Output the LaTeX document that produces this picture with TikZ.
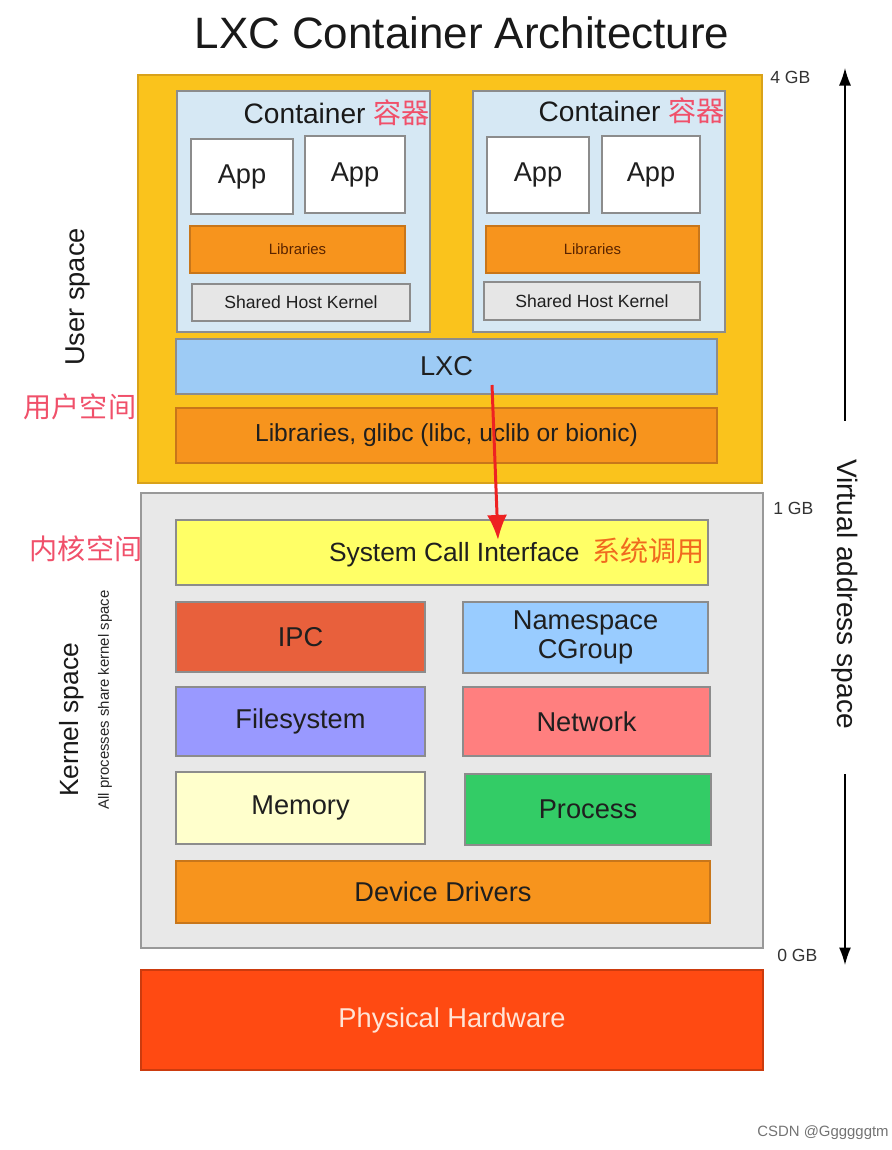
\documentclass[tikz,border=0pt]{standalone}
\usepackage{fontspec}
\setmainfont{Liberation Sans}
\newfontfamily\cjk{Noto Sans CJK SC}
\usetikzlibrary{arrows.meta}
\definecolor{userbg}{HTML}{FAC31C}
\definecolor{userbd}{HTML}{D9A21A}
\definecolor{contbg}{HTML}{D6E8F4}
\definecolor{libbg}{HTML}{F7941D}
\definecolor{libbd}{HTML}{C8761A}
\definecolor{libtx}{HTML}{5A2400}
\definecolor{shkbg}{HTML}{E6E6E6}
\definecolor{lxcbg}{HTML}{9DCBF5}
\definecolor{kernbg}{HTML}{E8E8E8}
\definecolor{scibg}{HTML}{FFFF66}
\definecolor{ipcbg}{HTML}{E8603C}
\definecolor{nsbg}{HTML}{99CCFF}
\definecolor{fsbg}{HTML}{9999FF}
\definecolor{netbg}{HTML}{FF7F7F}
\definecolor{membg}{HTML}{FFFFCC}
\definecolor{procbg}{HTML}{33CC66}
\definecolor{hwbg}{HTML}{FF4A12}
\definecolor{hwtx}{HTML}{FFE4D6}
\definecolor{zhred}{HTML}{F0506A}
\definecolor{zhorange}{HTML}{F06A1E}
\definecolor{callred}{HTML}{EE2222}

\begin{document}
\begin{tikzpicture}[
		blk/.style={draw=black!45, line width=0.6pt, inner sep=0pt, text=black!88, font=\fontsize{15.5}{18}\selectfont},
		small/.style={blk, font=\fontsize{10}{12}\selectfont},
		side/.style={text=black!90, font=\fontsize{15.5}{18}\selectfont},
		zh/.style={text=zhred, font=\cjk\fontsize{16}{18}\selectfont},
		gb/.style={anchor=west, inner sep=0pt, text=black!80, font=\fontsize{10}{12}\selectfont},
		axis/.style={line width=0.8pt, -{Latex[length=3.5mm,width=2.4mm]}},
		callarrow/.style={line width=1.7pt, callred, -{Latex[length=5mm,width=4mm]}}
	]

	\useasboundingbox (0,0) rectangle (17.84,-23);

	\node[font=\fontsize{25}{30}\selectfont, text=black!90] (title) at (9.24,-0.66) {LXC Container Architecture};

	\node[blk, draw=userbd, fill=userbg, minimum width=12.48cm, minimum height=8.16cm] (user) at (9.0,-5.58) {};

	\node[blk, fill=contbg, minimum width=5.06cm, minimum height=4.82cm] (cont1) at (6.07,-4.23) {};
	\node[blk, fill=contbg, minimum width=5.04cm, minimum height=4.82cm] (cont2) at (11.98,-4.23) {};
	\node[side, anchor=east, inner sep=0pt, font=\fontsize{16}{18}\selectfont] (ct1) at (8.6,-2.26) {Container {\cjk\color{zhred}容器}};
	\node[side, anchor=east, inner sep=0pt, font=\fontsize{16}{18}\selectfont] (ct2) at (14.5,-2.22) {Container {\cjk\color{zhred}容器}};

	\node[blk, fill=white, minimum width=2.04cm, minimum height=1.5cm] (app11) at (4.84,-3.53) {App};
	\node[blk, fill=white, minimum width=2.0cm, minimum height=1.54cm] (app12) at (7.1,-3.49) {App};
	\node[blk, draw=libbd, fill=libbg, text=libtx, font=\fontsize{8.5}{10}\selectfont, minimum width=4.3cm, minimum height=0.94cm] (lib1) at (5.95,-4.99) {Libraries};
	\node[small, fill=shkbg, minimum width=4.36cm, minimum height=0.74cm] (shk1) at (6.02,-6.05) {Shared Host Kernel};

	\node[blk, fill=white, minimum width=2.04cm, minimum height=1.52cm] (app21) at (10.76,-3.5) {App};
	\node[blk, fill=white, minimum width=1.96cm, minimum height=1.54cm] (app22) at (13.02,-3.49) {App};
	\node[blk, draw=libbd, fill=libbg, text=libtx, font=\fontsize{8.5}{10}\selectfont, minimum width=4.26cm, minimum height=0.94cm] (lib2) at (11.85,-4.99) {Libraries};
	\node[small, fill=shkbg, minimum width=4.32cm, minimum height=0.76cm] (shk2) at (11.84,-6.02) {Shared Host Kernel};

	\node[blk, fill=lxcbg, minimum width=10.82cm, minimum height=1.1cm] (lxc) at (8.93,-7.33) {LXC};
	\node[blk, draw=libbd, fill=libbg, font=\fontsize{14}{17}\selectfont, minimum width=10.82cm, minimum height=1.1cm] (glibc) at (8.93,-8.71) {Libraries, glibc (libc, uclib or bionic)};

	\node[blk, draw=black!40, fill=kernbg, minimum width=12.44cm, minimum height=9.1cm] (kernel) at (9.04,-14.41) {};

	\node[blk, fill=scibg, font=\fontsize{15}{18}\selectfont, minimum width=10.64cm, minimum height=1.3cm] (sci) at (8.84,-11.05) {\makebox[10.5cm][r]{System Call Interface\hspace{0.25cm}{\cjk\fontsize{16}{18}\selectfont\color{zhorange}系统调用}}};

	\node[blk, fill=ipcbg, minimum width=4.98cm, minimum height=1.4cm] (ipc) at (6.01,-12.74) {IPC};
	\node[blk, fill=nsbg, minimum width=4.9cm, minimum height=1.42cm, align=center, font=\fontsize{15.5}{16}\selectfont] (ns) at (11.71,-12.75) {Namespace\\CGroup};
	\node[blk, fill=fsbg, minimum width=4.98cm, minimum height=1.38cm] (fs) at (6.01,-14.43) {Filesystem};
	\node[blk, fill=netbg, minimum width=4.94cm, minimum height=1.38cm] (net) at (11.73,-14.43) {Network};
	\node[blk, fill=membg, minimum width=4.98cm, minimum height=1.44cm] (mem) at (6.01,-16.16) {Memory};
	\node[blk, fill=procbg, minimum width=4.92cm, minimum height=1.42cm] (proc) at (11.76,-16.19) {Process};
	\node[blk, draw=libbd, fill=libbg, minimum width=10.68cm, minimum height=1.24cm] (dd) at (8.86,-17.84) {Device Drivers};

	\node[blk, draw=hwbg!80!black, fill=hwbg, text=hwtx, minimum width=12.44cm, minimum height=2.0cm] (hw) at (9.04,-20.4) {Physical Hardware};

	\node[side, rotate=90] (userlbl) at (1.56,-5.94) {User space};
	\node[zh] (userzh) at (1.6,-8.14) {用户空间};
	\node[zh] (kernzh) at (1.72,-10.98) {内核空间};
	\node[side, rotate=90, font=\fontsize{15}{18}\selectfont] (kernlbl) at (1.44,-14.4) {Kernel space};
	\node[rotate=90, text=black!85, font=\fontsize{8.5}{10}\selectfont] (share) at (2.1,-14.0) {All processes share kernel space};

	\node[gb] (gb4) at (15.4,-1.54) {4 GB};
	\node[gb] (gb1) at (15.46,-10.16) {1 GB};
	\node[gb] (gb0) at (15.54,-19.1) {0 GB};

	\node[side, rotate=-90, inner sep=0pt, font=\fontsize{16}{18}\selectfont] (vas) at (16.9,-11.88) {Virtual address space};
	\coordinate (vtop) at (16.9,-1.36);
	\coordinate (vbot) at (16.9,-19.3);
	\draw[axis, shorten <=0.76cm] (vas.west) -- (vtop);
	\draw[axis, shorten <=0.9cm] (vas.east) -- (vbot);

	\coordinate (callsrc) at (9.84,-7.7);
	\coordinate (calldst) at (9.96,-10.8);
	\draw[callarrow] (callsrc) -- (calldst);

	\node[text=black!55, font=\fontsize{8.5}{10}\selectfont] (mark) at (16.46,-22.66) {CSDN @Ggggggtm};
\end{tikzpicture}
\end{document}
